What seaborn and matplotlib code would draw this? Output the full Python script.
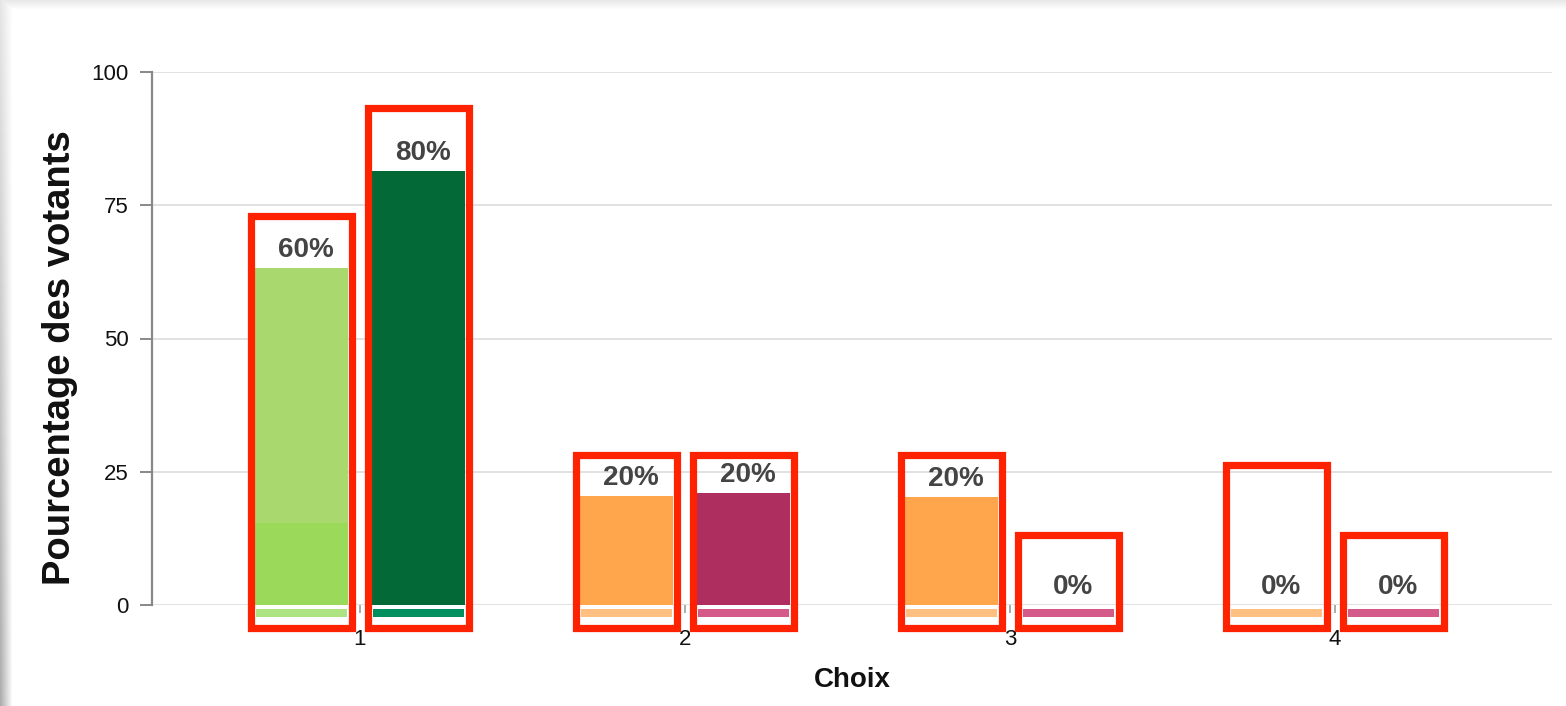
import seaborn as sns
import matplotlib.pyplot as plt
from matplotlib.patches import Rectangle
import pandas as pd
import numpy as np

# Valeurs
choix = ['1', '2', '3', '4']
series = ['Groupe A', 'Groupe B']
hauteur_a = [63.2, 20.4, 20.3, 0.0]
hauteur_b = [81.4, 21.0, 0.0, 0.0]
base_a = [15.4, 0.0, 0.0, 0.0]          # segment bas plus saturé (choix 1)
etiquettes_a = ['60%', '20%', '20%', '0%']
etiquettes_b = ['80%', '20%', '0%', '0%']
cadre_a = [73.0, 28.1, 28.1, 26.3]       # haut des cadres rouges
cadre_b = [93.2, 28.1, 13.1, 13.1]

couleurs_a = ['#a9d86e', '#ffa64d', '#ffa64d', '#ffa64d']
couleurs_b = ['#026937', '#ae2f5f', '#ae2f5f', '#ae2f5f']
base_couleurs_a = ['#9bd95a', '#ffa64d', '#ffa64d', '#ffa64d']
bande_a = ['#aee383', '#ffbf80', '#ffbf80', '#ffbf80']
bande_b = ['#009060', '#d45a8a', '#d45a8a', '#d45a8a']

df = pd.DataFrame({
    'choix': choix * 2,
    'serie': [series[0]] * 4 + [series[1]] * 4,
    'hauteur': hauteur_a + hauteur_b,
    'base': base_a + [0.0] * 4,
})

sns.set_style('white')
plt.rcParams['font.family'] = ['Liberation Sans', 'DejaVu Sans']
plt.rcParams['text.color'] = '#111111'
plt.rcParams['axes.labelcolor'] = '#111111'

fig = plt.figure(figsize=(15.66, 7.06), dpi=100)
ax = fig.add_axes([152 / 1566, 1 - 605 / 706, 1400 / 1566, 533 / 706])

# ombre de la carte (bord gauche et haut), ligne 0 = haut
h, w = 706, 1566
ombre = np.ones((h, w, 3))
for i in range(12):
    t = 1 - i / 12
    col = 1 - (0.10 + 0.22 * np.linspace(0, 1, h)) * t
    ombre[:, i, :] = col[:, None]
for j in range(9):
    t = 1 - j / 9
    ombre[j, :, :] = np.minimum(ombre[j, :, :], 1 - 0.09 * t)
fig.figimage(ombre, xo=0, yo=0, origin='upper', zorder=-5)
ax.set_facecolor('white')

sns.barplot(data=df, x='choix', y='hauteur', hue='serie', hue_order=series,
            width=0.72, gap=0.2, legend=False, ax=ax, saturation=1,
            errorbar=None, linewidth=0, zorder=2)
for bar, c in zip(ax.containers[0], couleurs_a):
    bar.set_facecolor(c)
for bar, c in zip(ax.containers[1], couleurs_b):
    bar.set_facecolor(c)

sns.barplot(data=df, x='choix', y='base', hue='serie', hue_order=series,
            width=0.72, gap=0.2, legend=False, ax=ax, saturation=1,
            errorbar=None, linewidth=0, zorder=3)
for bar, c in zip(ax.containers[2], base_couleurs_a):
    bar.set_facecolor(c)

groupes = [
    (ax.containers[0], hauteur_a, etiquettes_a, cadre_a, bande_a),
    (ax.containers[1], hauteur_b, etiquettes_b, cadre_b, bande_b),
]
for cont, haut, etiq, cadre, bande in groupes:
    for bar, v, lab, top, bc in zip(cont, haut, etiq, cadre, bande):
        x0 = bar.get_x()
        bw = bar.get_width()
        ax.bar(x0 + 0.004, -1.5, bottom=-0.7, width=bw - 0.008, align='edge',
               color=bc, linewidth=0, clip_on=False, zorder=3)
        ax.text(x0 + bw / 2 + 0.015, v + 3.4, lab, ha='center', va='center',
                fontsize=20, fontweight='bold', color='#444444', zorder=4)
        ax.add_patch(Rectangle((x0 - 0.012, -4.3), bw + 0.024, top + 4.3,
                               fill=False, edgecolor='#ff2200', linewidth=5.2,
                               clip_on=False, zorder=5))

ax.set_ylim(0, 100)
ax.set_xlim(-0.64, 3.668)
ax.set_yticks([0, 25, 50, 75, 100])
ax.yaxis.grid(True, color='#dddddd', linewidth=1.2, zorder=0)
ax.set_axisbelow(True)
for s in ['top', 'right', 'bottom']:
    ax.spines[s].set_visible(False)
ax.spines['left'].set_color('#888888')
ax.spines['left'].set_linewidth(1.6)
ax.tick_params(axis='y', length=9, width=1.4, color='#888888', pad=8,
               labelsize=16, labelcolor='#111111', left=True)
ax.tick_params(axis='x', length=6, width=1.4, color='#aaaaaa', pad=11,
               labelsize=16, labelcolor='#111111', bottom=True)

ax.set_ylabel('Pourcentage des votants', fontsize=27.5, fontweight='bold',
              va='center')
ax.yaxis.set_label_coords(-0.066, 0.465)
ax.set_xlabel('Choix', fontsize=20, fontweight='bold', va='center')
ax.xaxis.set_label_coords(0.5, -0.141)

fig.savefig('out.png', dpi=100)
